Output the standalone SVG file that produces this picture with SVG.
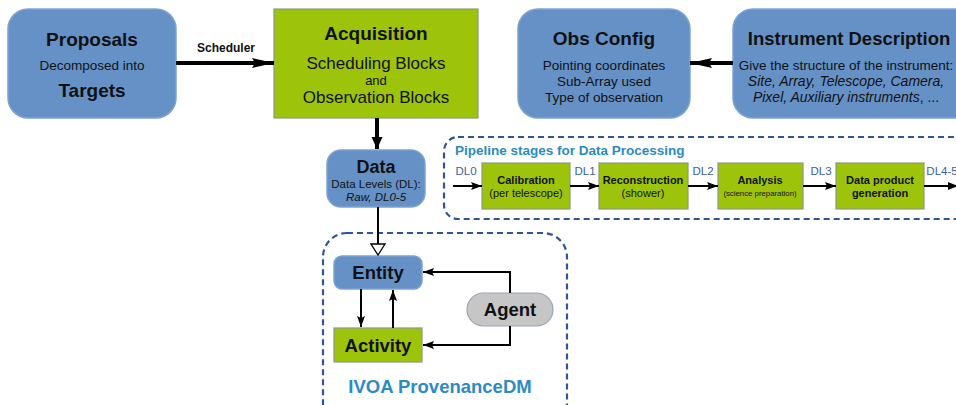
<svg xmlns="http://www.w3.org/2000/svg" width="956" height="405" viewBox="0 0 956 405">
<defs>
<style>
.blue{fill:#6591c7;stroke:#7ea2d0;stroke-width:1.5}
.green{fill:#9dc30b;stroke:#8c9a80;stroke-width:1.2}
.gray{fill:#c6c6c6;stroke:#9aa6b8;stroke-width:1.2}
.dash{fill:none;stroke:#2f5597;stroke-width:2.2;stroke-dasharray:6,4}
text{font-family:"Liberation Sans",Arial,sans-serif;fill:#111;text-anchor:middle}
.b{font-weight:bold}
.it{font-style:italic}
.dl{fill:#3b5fa6;font-size:11.5px;text-anchor:middle}
.ttl{fill:#2c8bc2;font-weight:bold}
.thick{stroke:#000;stroke-width:4;fill:none}
.thin{stroke:#000;stroke-width:2;fill:none}
</style>
<marker id="big" markerUnits="userSpaceOnUse" markerWidth="24" markerHeight="12" refX="22" refY="6" orient="auto"><path d="M0,1 L22,6 L0,11 L3,6 Z" fill="#000"/></marker>
<marker id="mid" markerUnits="userSpaceOnUse" markerWidth="14" markerHeight="12" refX="12" refY="6" orient="auto"><path d="M0,0.5 L12,6 L0,11.5 Z" fill="#000"/></marker>
<marker id="sm" markerUnits="userSpaceOnUse" markerWidth="12" markerHeight="10" refX="11" refY="5" orient="auto"><path d="M0,1 L11,5 L0,9 L2,5 Z" fill="#000"/></marker>
<marker id="open" markerUnits="userSpaceOnUse" markerWidth="14" markerHeight="16" refX="12" refY="8" orient="auto"><path d="M1,1 L12,8 L1,15 Z" fill="#fff" stroke="#000" stroke-width="1.3"/></marker>
</defs>

<g id="pipeline-frame">
<rect class="dash" x="444" y="137" width="530" height="82" rx="14"/>
<text class="ttl" x="455" y="155" font-size="13.5" style="text-anchor:start">Pipeline stages for Data Processing</text>
</g>
<g id="prov-frame">
<rect class="dash" x="323" y="233" width="244" height="200" rx="24"/>
<text class="ttl" x="440" y="393" font-size="18.5">IVOA ProvenanceDM</text>
</g>

<g id="proposals">
<rect class="blue" x="8" y="9" width="168" height="109" rx="20"/>
<text class="b" x="92" y="46" font-size="19">Proposals</text>
<text x="92" y="70" font-size="13.5">Decomposed into</text>
<text class="b" x="92" y="97" font-size="19">Targets</text>
</g>
<g id="acquisition">
<rect class="green" x="274" y="9" width="204" height="109"/>
<text class="b" x="376" y="40" font-size="19">Acquisition</text>
<text x="376" y="69" font-size="17">Scheduling Blocks</text>
<text x="376" y="85" font-size="13">and</text>
<text x="376" y="103" font-size="17">Observation Blocks</text>
</g>
<g id="obsconfig">
<rect class="blue" x="518" y="9" width="172" height="109" rx="20"/>
<text class="b" x="604" y="45" font-size="19">Obs Config</text>
<text x="604" y="70" font-size="13.5">Pointing coordinates</text>
<text x="604" y="86" font-size="13.5">Sub-Array used</text>
<text x="604" y="102" font-size="13.5">Type of observation</text>
</g>
<g id="instrument">
<rect class="blue" x="733" y="9" width="250" height="109" rx="20"/>
<text class="b" x="849" y="45" font-size="18.5">Instrument Description</text>
<text x="846" y="70" font-size="13.5">Give the structure of the instrument:</text>
<text class="it" x="846" y="86" font-size="14">Site, Array, Telescope, Camera,</text>
<text x="846" y="102" font-size="14"><tspan class="it">Pixel, Auxiliary instruments</tspan>, ...</text>
</g>
<g id="data">
<rect class="blue" x="327" y="150" width="98" height="57" rx="14"/>
<text class="b" x="376" y="173" font-size="18">Data</text>
<text x="376" y="188" font-size="11.5">Data Levels (DL):</text>
<text class="it" x="376" y="201" font-size="11.5">Raw, DL0-5</text>
</g>

<g id="calibration">
<rect class="green" x="482" y="163" width="88" height="46"/>
<text class="b" x="526" y="184" font-size="11">Calibration</text>
<text x="526" y="197" font-size="11">(per telescope)</text>
</g>
<g id="reconstruction">
<rect class="green" x="599" y="163" width="89" height="46"/>
<text class="b" x="643" y="184" font-size="11">Reconstruction</text>
<text x="643" y="197" font-size="11">(shower)</text>
</g>
<g id="analysis">
<rect class="green" x="718" y="163" width="85" height="46"/>
<text class="b" x="760" y="184" font-size="11">Analysis</text>
<text x="760" y="196" font-size="7.8">(science preparation)</text>
</g>
<g id="dataproduct">
<rect class="green" x="836" y="163" width="88" height="46"/>
<text class="b" x="880" y="184" font-size="11">Data product</text>
<text class="b" x="880" y="197" font-size="11">generation</text>
</g>

<g id="entity">
<rect class="blue" x="334" y="256" width="88" height="33" rx="8"/>
<text class="b" x="378" y="279" font-size="18.5">Entity</text>
</g>
<g id="activity">
<rect class="green" x="334" y="328" width="88" height="34"/>
<text class="b" x="378" y="352" font-size="18.5">Activity</text>
</g>
<g id="agent">
<rect class="gray" x="467" y="293" width="86" height="33" rx="16.5"/>
<text class="b" x="510" y="316" font-size="18.5">Agent</text>
</g>

<g id="connectors">
<line class="thick" x1="176" y1="63" x2="274" y2="63" marker-end="url(#big)"/>
<text class="b" x="226" y="52" font-size="12">Scheduler</text>
<line class="thick" x1="733" y1="63" x2="690" y2="63" marker-end="url(#big)"/>
<line class="thick" x1="377" y1="118" x2="377" y2="149" marker-end="url(#mid)"/>
<line class="thin" x1="378" y1="207" x2="378" y2="255" marker-end="url(#open)"/>

<line class="thin" x1="453" y1="186" x2="482" y2="186" marker-end="url(#sm)"/>
<line class="thin" x1="570" y1="186" x2="599" y2="186" marker-end="url(#sm)"/>
<line class="thin" x1="688" y1="186" x2="718" y2="186" marker-end="url(#sm)"/>
<line class="thin" x1="803" y1="186" x2="836" y2="186" marker-end="url(#sm)"/>
<line class="thin" x1="924" y1="186" x2="960" y2="186"/>
<path d="M948,182 L958,186 L948,190 Z" fill="#000"/>
<text class="dl" x="466" y="175">DL0</text>
<text class="dl" x="585" y="175">DL1</text>
<text class="dl" x="703" y="175">DL2</text>
<text class="dl" x="821" y="175">DL3</text>
<text class="dl" x="942" y="175">DL4-5</text>

<line class="thin" x1="361" y1="289" x2="361" y2="327" marker-end="url(#sm)"/>
<line class="thin" x1="393" y1="328" x2="393" y2="290" marker-end="url(#sm)"/>
<path class="thin" d="M510,293 V272 H423" marker-end="url(#sm)"/>
<path class="thin" d="M510,326 V345 H423" marker-end="url(#sm)"/>
</g>
</svg>
